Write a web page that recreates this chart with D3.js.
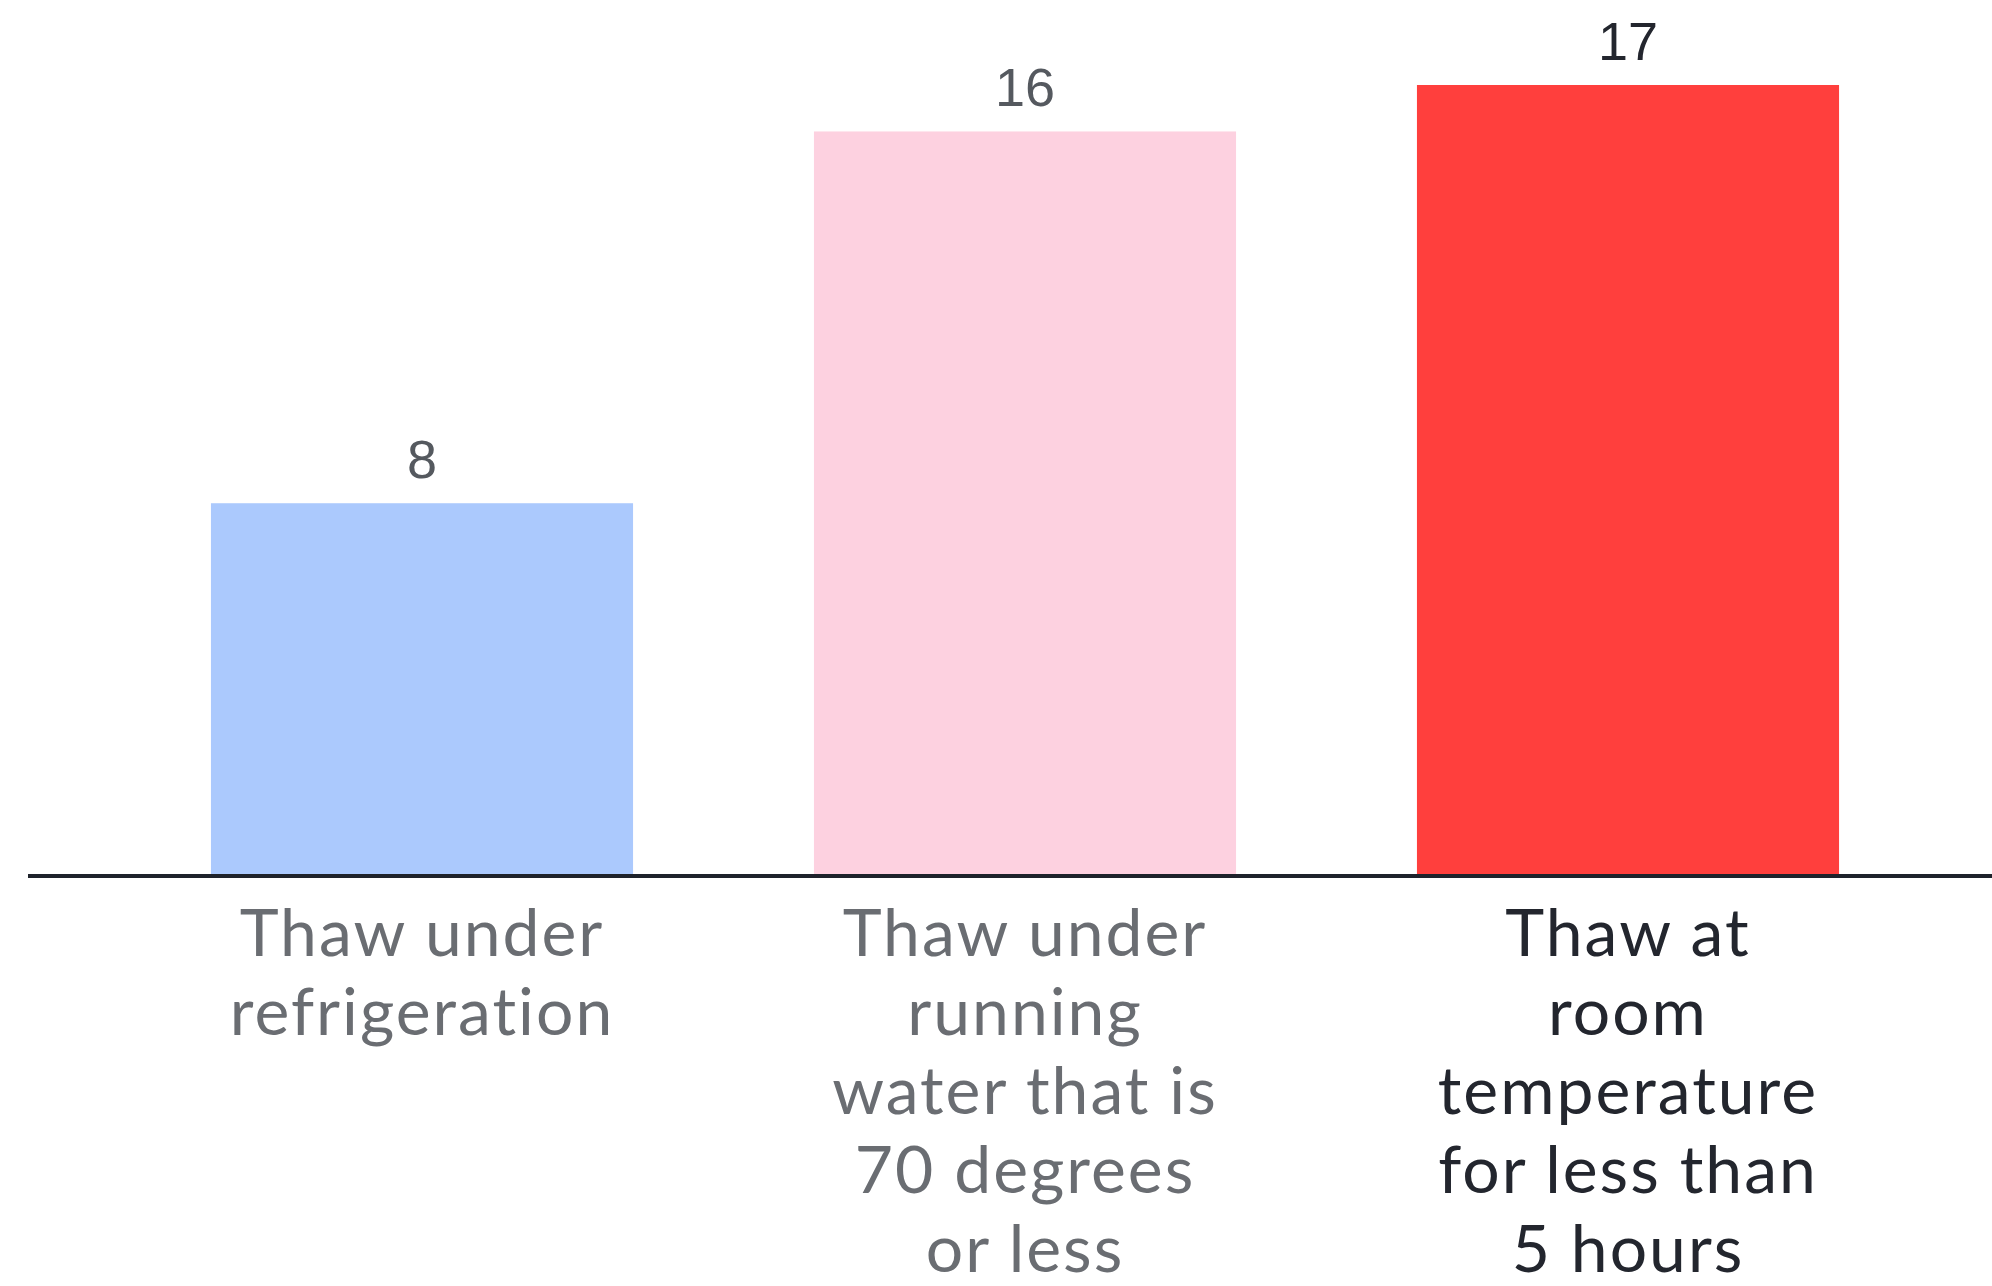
<!DOCTYPE html>
<html>
<head>
<meta charset="utf-8">
<script src="https://cdn.jsdelivr.net/npm/d3@7"></script>
<style>
  body { margin: 0; background: #ffffff; }
  svg { display: block; }
</style>
</head>
<body>
<svg id="thawChart" width="1992" height="1286"></svg>
<script>
// chart data
var categories = ["refrigeration", "runningWater", "roomTemp"];
var categoryLines = [
    ["Thaw under", "refrigeration"],
    ["Thaw under", "running", "water that is", "70 degrees", "or less"],
    ["Thaw at", "room", "temperature", "for less than", "5 hours"]
];
var values = [8, 16, 17];
var barColors = ["#abc9fd", "#fdd1e0", "#ff3f3d"];
var labelColors = ["#6a6d72", "#6a6d72", "#23262e"];

var chart = d3.select("#thawChart");
var chartWidth = +chart.attr("width");
var baseY = 875;

// x scale: bands
var x = d3.scaleBand()
    .domain(categories)
    .range([120.5, 1929.5])
    .paddingInner(0.3)
    .paddingOuter(0.15);

// y scale
var y = d3.scaleLinear()
    .domain([0, 17])
    .range([baseY, 85]);

var g = chart.append("g");

g.selectAll(".bar")
    .data(values)
    .enter()
    .append("rect")
    .attr("class", "bar")
    .attr("x", function(d, i) { return x(categories[i]); })
    .attr("width", x.bandwidth())
    .attr("y", function(d) { return y(d); })
    .attr("height", function(d) { return y(0) - y(d); })
    .attr("fill", function(d, i) { return barColors[i]; });

// value labels
g.selectAll(".valueLabel")
    .data(values)
    .enter()
    .append("text")
    .attr("class", "valueLabel")
    .attr("text-anchor", "middle")
    .attr("x", function(d, i) { return x(categories[i]) + x.bandwidth() / 2; })
    .attr("y", function(d) { return y(d) - 25; })
    .style("font-family", "'Liberation Sans', Arial, sans-serif")
    .style("font-size", "54px")
    .attr("fill", function(d, i) { return i == 2 ? "#23262e" : "#55595f"; })
    .text(function(d) { return d; });

// baseline
g.append("line")
    .attr("x1", 28)
    .attr("x2", chartWidth)
    .attr("y1", y(0) + 1)
    .attr("y2", y(0) + 1)
    .attr("stroke", "#1e222b")
    .attr("stroke-width", 4);

// category labels
var catLabels = g.selectAll(".catLabel")
    .data(categoryLines)
    .enter()
    .append("text")
    .attr("class", "catLabel")
    .attr("text-anchor", "middle")
    .style("font-family", "Lato, sans-serif")
    .style("font-size", "66px")
    .style("letter-spacing", "2px")
    .attr("fill", function(d, i) { return labelColors[i]; });

catLabels.each(function(lines, i) {
    var cx = x(categories[i]) + x.bandwidth() / 2;
    d3.select(this).selectAll("tspan")
        .data(lines)
        .enter()
        .append("tspan")
        .attr("x", cx)
        .attr("y", function(d, j) { return 956 + j * 79; })
        .text(function(d) { return d; });
});
</script>
</body>
</html>
